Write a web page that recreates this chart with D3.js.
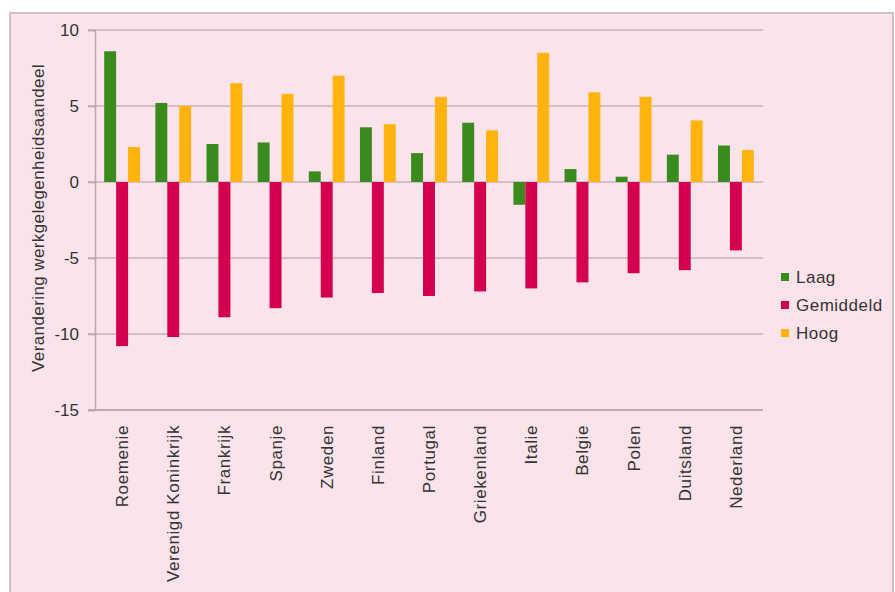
<!DOCTYPE html>
<html>
<head>
<meta charset="utf-8">
<script src="https://cdn.jsdelivr.net/npm/d3@7"></script>
<style>
  html, body { margin: 0; padding: 0; background: #ffffff; }
  svg { display: block; }
  text { font-family: "Liberation Sans", Arial, sans-serif; fill: #333; }
</style>
</head>
<body>
<svg id="chart" width="895" height="592"></svg>
<script>
// ---- data ----
const categories = ["Roemenie", "Verenigd Koninkrijk", "Frankrijk", "Spanje", "Zweden", "Finland",
  "Portugal", "Griekenland", "Italie", "Belgie", "Polen", "Duitsland", "Nederland"];
const seriesNames = ["Laag", "Gemiddeld", "Hoog"];
const laag      = [8.6, 5.2, 2.5, 2.6, 0.7, 3.6, 1.9, 3.9, -1.5, 0.85, 0.35, 1.8, 2.4];
const gemiddeld = [-10.8, -10.2, -8.9, -8.3, -7.6, -7.3, -7.5, -7.2, -7.0, -6.6, -6.0, -5.8, -4.5];
const hoog      = [2.3, 5.0, 6.5, 5.8, 7.0, 3.8, 5.6, 3.4, 8.5, 5.9, 5.6, 4.05, 2.1];
const yTicks = [10, 5, 0, -5, -10, -15];
const yTitle = "Verandering werkgelegenheidsaandeel";
const colors = ["#3b8a1d", "#d4004f", "#ffb30c"];

const seriesValues = [laag, gemiddeld, hoog];

const svg = d3.select("#chart");

// panel background
svg.append("rect").attr("x", 10).attr("y", 13).attr("width", 883).attr("height", 600)
  .attr("fill", "#fbe3ec").attr("stroke", "#cdbfc5").attr("stroke-width", 2);

const plot = { left: 95, right: 763, top: 30, bottom: 410 };

const y = d3.scaleLinear().domain([-15, 10]).range([plot.bottom, plot.top]);
const x0 = d3.scaleBand().domain(categories).range([plot.left, plot.right])
  .paddingInner(0.3).paddingOuter(0.18);
const x1 = d3.scaleBand().domain(seriesNames).range([0, x0.bandwidth()]).padding(0);

// gridlines
svg.append("g").selectAll("line").data(yTicks).join("line")
  .attr("x1", plot.left - 7).attr("x2", plot.right)
  .attr("y1", d => y(d)).attr("y2", d => y(d))
  .attr("stroke", d => d === -15 ? "#a8979f" : "#c6b3bc").attr("stroke-width", 1.5);

// y axis
const yAxis = svg.append("g").attr("transform", `translate(${plot.left},0)`)
  .call(d3.axisLeft(y).tickValues(yTicks).tickSize(7).tickPadding(9).tickFormat(d => String(d)));
yAxis.select(".domain").attr("stroke", "#b9a8b0").attr("stroke-width", 1.5);
yAxis.selectAll(".tick line").attr("stroke", "#b9a8b0").attr("stroke-width", 1.5);
yAxis.selectAll(".tick text").style("font-size", "17px").attr("fill", "#333")
  .style("font-family", "'Liberation Sans', Arial, sans-serif");

// bars
const rows = categories.map((c, i) => ({ c, vals: seriesNames.map((s, j) => ({ s, v: seriesValues[j][i], j })) }));
const groups = svg.append("g").selectAll("g").data(rows).join("g")
  .attr("transform", d => `translate(${x0(d.c)},0)`);
groups.selectAll("rect").data(d => d.vals).join("rect")
  .attr("x", d => x1(d.s))
  .attr("width", x1.bandwidth())
  .attr("y", d => y(Math.max(0, d.v)))
  .attr("height", d => Math.abs(y(d.v) - y(0)))
  .attr("fill", d => colors[d.j]);

// x labels
const xAxis = svg.append("g").attr("transform", `translate(0,${plot.bottom})`)
  .call(d3.axisBottom(x0).tickSize(0).tickPadding(0));
xAxis.select(".domain").remove();
xAxis.selectAll(".tick text")
  .attr("transform", "rotate(-90)")
  .attr("x", -15).attr("y", 0).attr("dy", "0.35em")
  .style("text-anchor", "end")
  .style("font-size", "17px").style("letter-spacing", "0.6px")
  .style("font-family", "'Liberation Sans', Arial, sans-serif")
  .attr("fill", "#333");

// y title
svg.append("text")
  .attr("transform", `translate(44,218) rotate(-90)`)
  .attr("text-anchor", "middle")
  .style("font-size", "17px").style("letter-spacing", "0.4px")
  .text(yTitle);

// legend
const legend = svg.append("g").attr("transform", "translate(781,277)");
const li = legend.selectAll("g").data(seriesNames).join("g")
  .attr("transform", (d, i) => `translate(0,${i * 28})`);
li.append("rect").attr("x", 0).attr("y", -4).attr("width", 8).attr("height", 8)
  .attr("fill", (d, i) => colors[i]);
li.append("text").attr("x", 15).attr("y", 0).attr("dy", "0.35em")
  .style("font-size", "17px").style("letter-spacing", "0.5px").text(d => d);
</script>
</body>
</html>
